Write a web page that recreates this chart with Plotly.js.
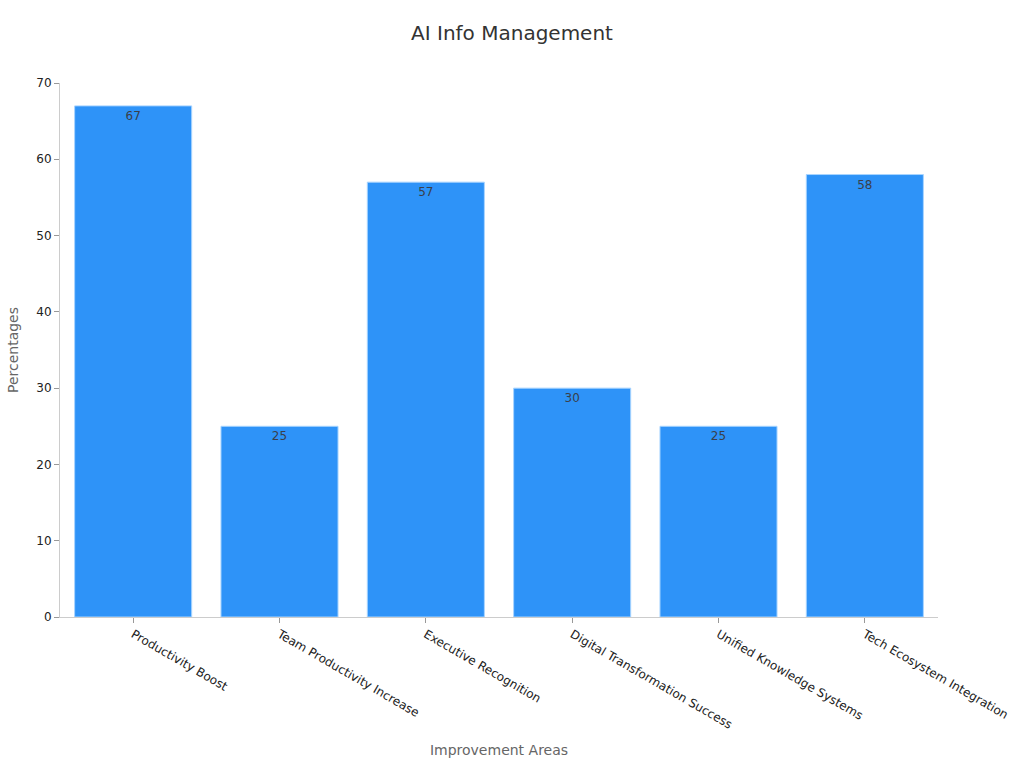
<!DOCTYPE html>
<html>
<head>
<meta charset="utf-8">
<script src="https://cdn.plot.ly/plotly-3.0.1.min.js"></script>
<style>html,body{margin:0;padding:0;background:#fff;}#chart{width:1024px;height:768px;}</style>
</head>
<body>
<div id="chart"></div>
<script>
const categories = ["Productivity Boost", "Team Productivity Increase", "Executive Recognition", "Digital Transformation Success", "Unified Knowledge Systems", "Tech Ecosystem Integration"];
const values = [67, 25, 57, 30, 25, 58];
const yTicks = [0, 10, 20, 30, 40, 50, 60, 70];

const font = "DejaVu Sans, sans-serif";
Plotly.newPlot("chart", [{
  type: "bar",
  x: categories,
  y: values,
  text: values.map(String),
  textposition: "inside",
  insidetextanchor: "end",
  textfont: {family: font, size: 12, color: "#3a3f4a"},
  marker: {color: "#2E93F8", line: {color: "#A8D4FF", width: 1}},
  hoverinfo: "x+y"
}], {
  width: 1024, height: 768,
  margin: {l: 60, r: 86, t: 83, b: 151},
  paper_bgcolor: "#fff", plot_bgcolor: "#fff",
  bargap: 0.2,
  font: {family: font, color: "#222"},
  title: {text: "AI Info Management", font: {family: font, size: 20, color: "#333"}, x: 0.5, xanchor: "center", y: 0.957, yanchor: "middle"},
  xaxis: {
    title: {text: "Improvement Areas", font: {family: font, size: 14, color: "#666"}, standoff: 14},
    tickangle: 30, tickfont: {family: font, size: 12, color: "#222"},
    showline: true, linecolor: "#ccc", linewidth: 1,
    ticks: "outside", ticklen: 5, tickcolor: "#999", showgrid: false, zeroline: false
  },
  yaxis: {
    title: {text: "Percentages", font: {family: font, size: 14, color: "#666"}, standoff: 14},
    range: [0, 70], tickvals: yTicks,
    tickfont: {family: font, size: 12, color: "#222"},
    showline: true, linecolor: "#ccc", linewidth: 1,
    ticks: "outside", ticklen: 5, tickcolor: "#999", showgrid: false, zeroline: false
  },
  showlegend: false
}, {displayModeBar: false});
</script>
</body>
</html>
